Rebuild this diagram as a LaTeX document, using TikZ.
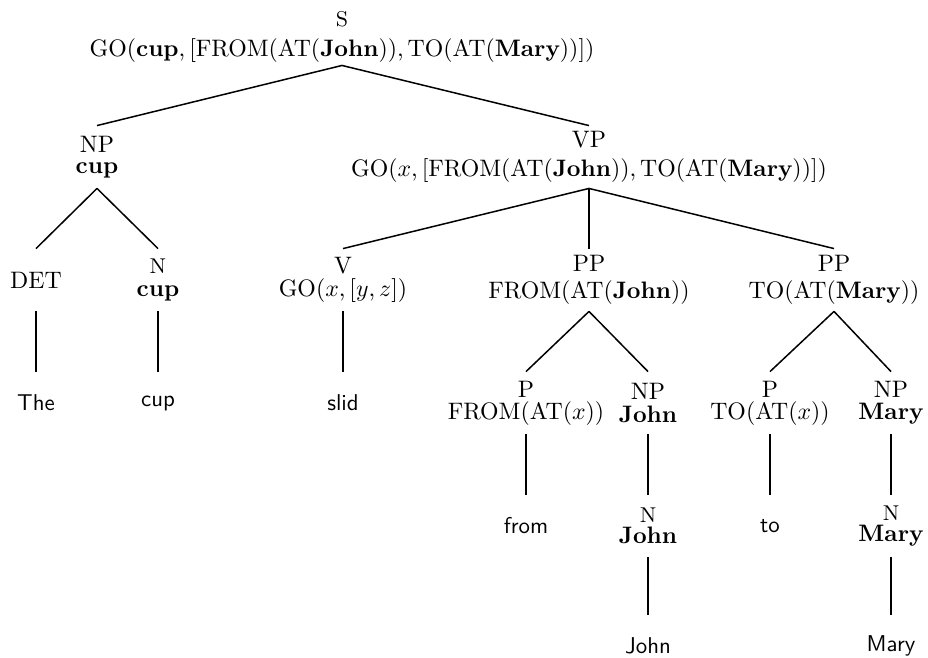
\documentclass[tikz,border=0pt]{standalone}
\usepackage{tikz}
\newcommand{\catlabel}[1]{{\fontsize{9}{10.8}\selectfont #1}}
\tikzstyle{treenode} = [rectangle, minimum height=26pt, inner sep=0pt, align=center, font=\fontsize{10}{12}\selectfont]
\tikzstyle{leaf} = [rectangle, minimum height=26pt, inner sep=0pt, font=\fontsize{9.6}{11.5}\selectfont\sffamily]
\tikzstyle{branch} = [line width=0.63pt]
\tikzstyle{stem} = [line width=1.13pt]

\begin{document}
\begin{tikzpicture}[x=0.42pt, y=-0.42pt]
        \useasboundingbox (0,0) rectangle (928,657);
        % sentence level
        \node (s) [treenode, minimum height=23.5pt] at (342,37) {\catlabel{S}\\[0.6pt]GO(\textbf{cup},\,[FROM(AT(\textbf{John})),\,TO(AT(\textbf{Mary}))])};
        \node (np1) [treenode] at (97,157) {NP\\[-3.1pt]\textbf{cup}};
        \node (vp) [treenode] at (589,157) {VP\\[0.4pt]GO($x$,\,[FROM(AT(\textbf{John})),\,TO(AT(\textbf{Mary}))])};
        % second level
        \node (det) [treenode] at (36,280) {DET};
        \node (n1) [treenode] at (158,280) {\catlabel{N}\\[-2.7pt]\textbf{cup}};
        \node (v) [treenode] at (343,280) {V\\[-2.3pt]GO($x$,\,[$y$,\,$z$])};
        \node (pp1) [treenode] at (589,280) {PP\\[-0.4pt]FROM(AT(\textbf{John}))};
        \node (pp2) [treenode] at (834,280) {PP\\[-0.4pt]TO(AT(\textbf{Mary}))};
        % third level
        \node (the) [leaf] at (36,403) {The};
        \node (cup) [leaf] at (158,403) {cup};
        \node (slid) [leaf] at (343,403) {slid};
        \node (p1) [treenode] at (526,403) {P\\[-2.8pt]FROM(AT($x$))};
        \node (np2) [treenode] at (648,403) {NP\\[-2.6pt]\textbf{John}};
        \node (p2) [treenode] at (770,403) {P\\[-2.8pt]TO(AT($x$))};
        \node (np3) [treenode] at (891,403) {NP\\[-2.6pt]\textbf{Mary}};
        % fourth and fifth level
        \node (from) [leaf] at (526,526) {from};
        \node (n2) [treenode] at (648,526) {\catlabel{N}\\[-3.2pt]\textbf{John}};
        \node (to) [leaf] at (770,526) {to};
        \node (n3) [treenode] at (891,526) {\catlabel{N}\\[-3.2pt]\textbf{Mary}};
        \node (john) [leaf] at (648,646) {John};
        \node (mary) [leaf] at (891,646) {Mary};

        \draw [branch] (s.south) -- (np1.north);
        \draw [branch] (s.south) -- (vp.north);
        \draw [branch] (np1.south) -- (det.north);
        \draw [branch] (np1.south) -- (n1.north);
        \draw [branch] (vp.south) -- (v.north);
        \draw [stem] (vp.south) -- (pp1.north);
        \draw [branch] (vp.south) -- (pp2.north);
        \draw [stem] (det.south) -- (the.north);
        \draw [stem] (n1.south) -- (cup.north);
        \draw [stem] (v.south) -- (slid.north);
        \draw [branch] (pp1.south) -- (p1.north);
        \draw [branch] (pp1.south) -- (np2.north);
        \draw [branch] (pp2.south) -- (p2.north);
        \draw [branch] (pp2.south) -- (np3.north);
        \draw [stem] (p1.south) -- (from.north);
        \draw [stem] (np2.south) -- (n2.north);
        \draw [stem] (p2.south) -- (to.north);
        \draw [stem] (np3.south) -- (n3.north);
        \draw [stem] (n2.south) -- (john.north);
        \draw [stem] (n3.south) -- (mary.north);

    \end{tikzpicture}
\end{document}
